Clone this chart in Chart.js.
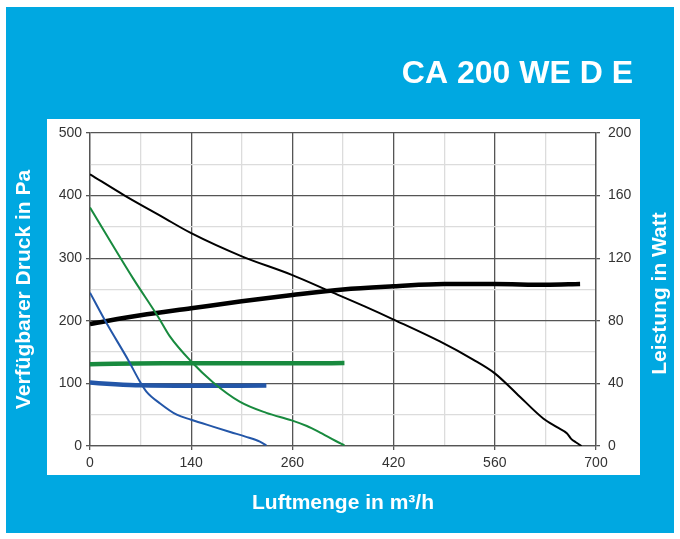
<!DOCTYPE html>
<html>
<head>
<meta charset="utf-8">
<script src="https://cdn.jsdelivr.net/npm/chart.js@4.4.0/dist/chart.umd.min.js"></script>
<style>
    html, body { margin: 0; padding: 0; background: #fff; }
    #wrap { width: 680px; height: 539px; }
</style>
</head>
<body>
<div id="wrap"><canvas id="graphCanvas" width="680" height="539"></canvas></div>
<script>
// values
var chartTitle = 'CA 200 WE D E';
var xTitle = 'Luftmenge in m³/h';
var yTitle = 'Verfügbarer Druck in Pa';
var y1Title = 'Leistung in Watt';
var xTickLabels = ['0', '140', '260', '420', '560', '700'];

// pressure curves (Pa, left axis)
var blackPressX = [0, 48, 100, 140, 210, 280, 332, 380, 420, 484, 530, 560, 590, 627, 646, 660, 666, 672, 680];
var blackPressY = [434, 400, 366, 340, 303, 273, 247, 223, 202, 167, 138, 116, 84, 44, 30, 20, 11, 6, 0];
var greenPressX = [0, 60, 95, 110, 140, 170, 207, 244, 279, 300, 316, 340, 352];
var greenPressY = [381, 267, 205, 176, 135, 102, 71, 53, 41, 32, 23, 8, 1];
var bluePressX = [0, 23, 53, 69, 78, 97, 120, 140, 170, 195, 215, 235, 244];
var bluePressY = [245, 196, 137, 103, 87, 68, 50, 42, 31, 22, 15, 7, 1];

// power curves (Watt, right axis)
var blackPowerX = [0, 70, 140, 210, 280, 350, 420, 490, 560, 630, 678];
var blackPowerY = [78, 83.5, 88, 92.5, 96.5, 100, 102, 103.5, 103.5, 103, 103.5];
var greenPowerX = [0, 100, 200, 300, 352];
var greenPowerY = [52.3, 52.8, 52.8, 52.8, 53];
var bluePowerX = [0, 35, 70, 140, 244];
var bluePowerY = [40.5, 39.5, 38.8, 38.5, 38.6];

function zip(xs, ys) {
    var pts = [];
    for (var i in xs) {
        pts.push({x: xs[i], y: ys[i]});
    }
    return pts;
}

var fontFamily = "'Liberation Sans', Arial, sans-serif";
Chart.defaults.font.family = fontFamily;

var panelPlugin = {
    id: 'panel',
    beforeDraw: function(chart) {
        var ctx = chart.ctx;
        var ca = chart.chartArea;
        ctx.save();
        ctx.fillStyle = '#fff';
        ctx.fillRect(0, 0, chart.width, chart.height);
        ctx.fillStyle = '#00a8e1';
        ctx.fillRect(6, 7, 668, 526);
        ctx.fillStyle = '#fff';
        ctx.fillRect(ca.left - 43, ca.top - 14, (ca.right + 44) - (ca.left - 43), (ca.bottom + 29) - (ca.top - 14));
        ctx.restore();
    },
    afterDraw: function(chart) {
        var ctx = chart.ctx;
        var ca = chart.chartArea;
        ctx.save();
        ctx.fillStyle = '#fff';
        ctx.font = 'bold 32px ' + fontFamily;
        ctx.textAlign = 'right';
        ctx.textBaseline = 'alphabetic';
        ctx.fillText(chartTitle, ca.right + 37, 83);

        ctx.font = 'bold 21px ' + fontFamily;
        ctx.textAlign = 'center';
        ctx.textBaseline = 'middle';
        ctx.translate(660, (ca.top + ca.bottom) / 2 + 4);
        ctx.rotate(-Math.PI / 2);
        ctx.fillText(y1Title, 0, 0);
        ctx.restore();
    }
};

function gridColor(step) {
    return function(c) {
        if (!c.tick) return '#555';
        return c.tick.value % step === 0 ? '#555' : '#dcdcdc';
    };
}
function tickColor(step) {
    return function(c) {
        if (!c.tick) return '#555';
        return c.tick.value % step === 0 ? '#555' : 'rgba(0,0,0,0)';
    };
}

var lineBase = {
    fill: false,
    pointRadius: 0,
    borderJoinStyle: 'round',
    borderCapStyle: 'butt',
    cubicInterpolationMode: 'monotone'
};

var chartdata = {
    datasets: [
        Object.assign({}, lineBase, {label: 'Druck', data: zip(blackPressX, blackPressY), borderColor: '#000', borderWidth: 2, yAxisID: 'y'}),
        Object.assign({}, lineBase, {label: 'Druck', data: zip(greenPressX, greenPressY), borderColor: '#188a3e', borderWidth: 2, yAxisID: 'y'}),
        Object.assign({}, lineBase, {label: 'Druck', data: zip(bluePressX, bluePressY), borderColor: '#2356a8', borderWidth: 2, yAxisID: 'y'}),
        Object.assign({}, lineBase, {label: 'Leistung', data: zip(blackPowerX, blackPowerY), borderColor: '#000', borderWidth: 4.5, yAxisID: 'y1'}),
        Object.assign({}, lineBase, {label: 'Leistung', data: zip(greenPowerX, greenPowerY), borderColor: '#188a3e', borderWidth: 4.5, yAxisID: 'y1'}),
        Object.assign({}, lineBase, {label: 'Leistung', data: zip(bluePowerX, bluePowerY), borderColor: '#2356a8', borderWidth: 4.5, yAxisID: 'y1'})
    ]
};

var graphTarget = document.getElementById('graphCanvas');

var lineGraph = new Chart(graphTarget, {
    type: 'line',
    data: chartdata,
    plugins: [panelPlugin],
    options: {
        responsive: false,
        animation: false,
        events: [],
        layout: { padding: { top: 133, left: 0, right: 0, bottom: 0 } },
        plugins: {
            legend: { display: false },
            tooltip: { enabled: false },
            title: { display: false }
        },
        scales: {
            x: {
                type: 'linear',
                min: 0,
                max: 700,
                afterFit: function(s) { s.height = 93; },
                ticks: {
                    stepSize: 70,
                    autoSkip: false,
                    maxRotation: 0,
                    color: '#333',
                    font: { size: 14 },
                    padding: 5,
                    callback: function(v) {
                        return v % 140 === 0 ? xTickLabels[v / 140] : '';
                    }
                },
                grid: { color: gridColor(140), lineWidth: 1.3, tickLength: 4, tickColor: tickColor(140) },
                border: { color: '#555', width: 1.3 },
                title: {
                    display: true,
                    text: xTitle,
                    color: '#fff',
                    font: { size: 21, weight: 'bold' },
                    padding: { top: 0, bottom: 23 }
                }
            },
            y: {
                position: 'left',
                min: 0,
                max: 500,
                afterFit: function(s) { s.width = 90; },
                ticks: {
                    stepSize: 50,
                    color: '#333',
                    font: { size: 14 },
                    padding: 4,
                    callback: function(v) {
                        return v % 100 === 0 ? v : '';
                    }
                },
                grid: { color: gridColor(100), lineWidth: 1.3, tickLength: 4, tickColor: tickColor(100) },
                border: { color: '#555', width: 1.3 },
                title: {
                    display: true,
                    text: yTitle,
                    color: '#fff',
                    font: { size: 21, weight: 'bold' },
                    padding: { top: 12, bottom: 0 }
                }
            },
            y1: {
                position: 'right',
                min: 0,
                max: 200,
                afterFit: function(s) { s.width = 84; },
                ticks: {
                    stepSize: 40,
                    color: '#333',
                    font: { size: 14 },
                    padding: 8
                },
                grid: { drawOnChartArea: false, tickLength: 4, tickColor: '#555', lineWidth: 1.3 },
                border: { color: '#555', width: 1.3 }
            }
        }
    }
});
</script>
</body>
</html>
